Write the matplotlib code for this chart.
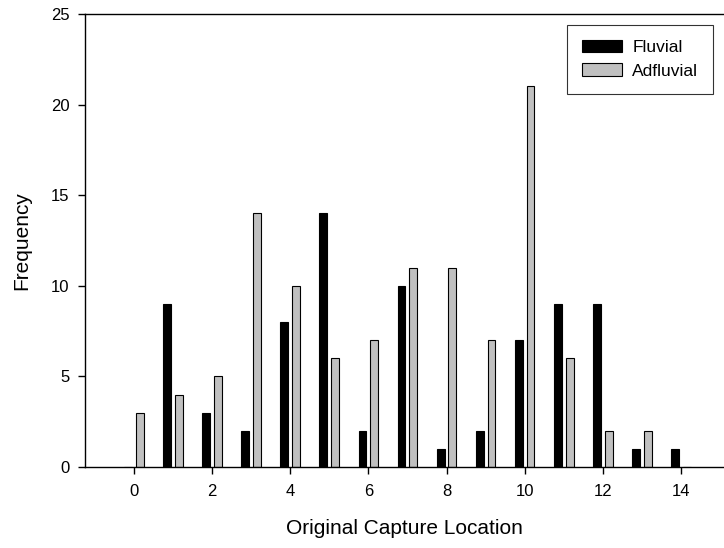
import matplotlib
matplotlib.use("Agg")
import matplotlib.pyplot as plt
import numpy as np

plt.rcParams['font.family'] = ['Liberation Sans', 'DejaVu Sans']

locations = np.arange(0, 15)
fluvial = [0, 9, 3, 2, 8, 14, 2, 10, 1, 2, 7, 9, 9, 1, 1]
adfluvial = [3, 4, 5, 14, 10, 6, 7, 11, 11, 7, 21, 6, 2, 2, 0]
x_ticks = [0, 2, 4, 6, 8, 10, 12, 14]
y_ticks = [0, 5, 10, 15, 20, 25]

fig = plt.figure(figsize=(7.24, 5.48), dpi=100)
ax = fig.add_axes([85/724, 1-467/548, 1-85/724, (467-14)/548])

w = 0.2
ax.bar(locations - 0.15, fluvial, width=w, color='black', edgecolor='black', linewidth=0.8, label='Fluvial')
ax.bar(locations + 0.15, adfluvial, width=w, color='#c0c0c0', edgecolor='black', linewidth=0.8, label='Adfluvial')

ax.set_xlim(-1.25, 15.1)
ax.set_ylim(0, 25)
ax.set_xticks(x_ticks)
ax.set_yticks(y_ticks)
ax.spines['right'].set_visible(False)
for s in ['left', 'top', 'bottom']:
    ax.spines[s].set_linewidth(1.0)
ax.tick_params(direction='out', length=5, width=1, labelsize=12)
ax.tick_params(axis='x', pad=7)
ax.tick_params(axis='y', pad=6)
ax.set_xlabel('Original Capture Location', fontsize=15, labelpad=15)
ax.set_ylabel('Frequency', fontsize=15, labelpad=14)

leg = ax.legend(loc='upper right', bbox_to_anchor=(713/724, 1 - 25/548), bbox_transform=fig.transFigure,
                frameon=True, fancybox=False, edgecolor='black', fontsize=12.5, borderaxespad=0,
                handlelength=2.3, handleheight=0.75, handletextpad=0.6, borderpad=0.85, labelspacing=0.47)
leg.get_frame().set_linewidth(0.8)

fig.savefig('out.png', dpi=100)
